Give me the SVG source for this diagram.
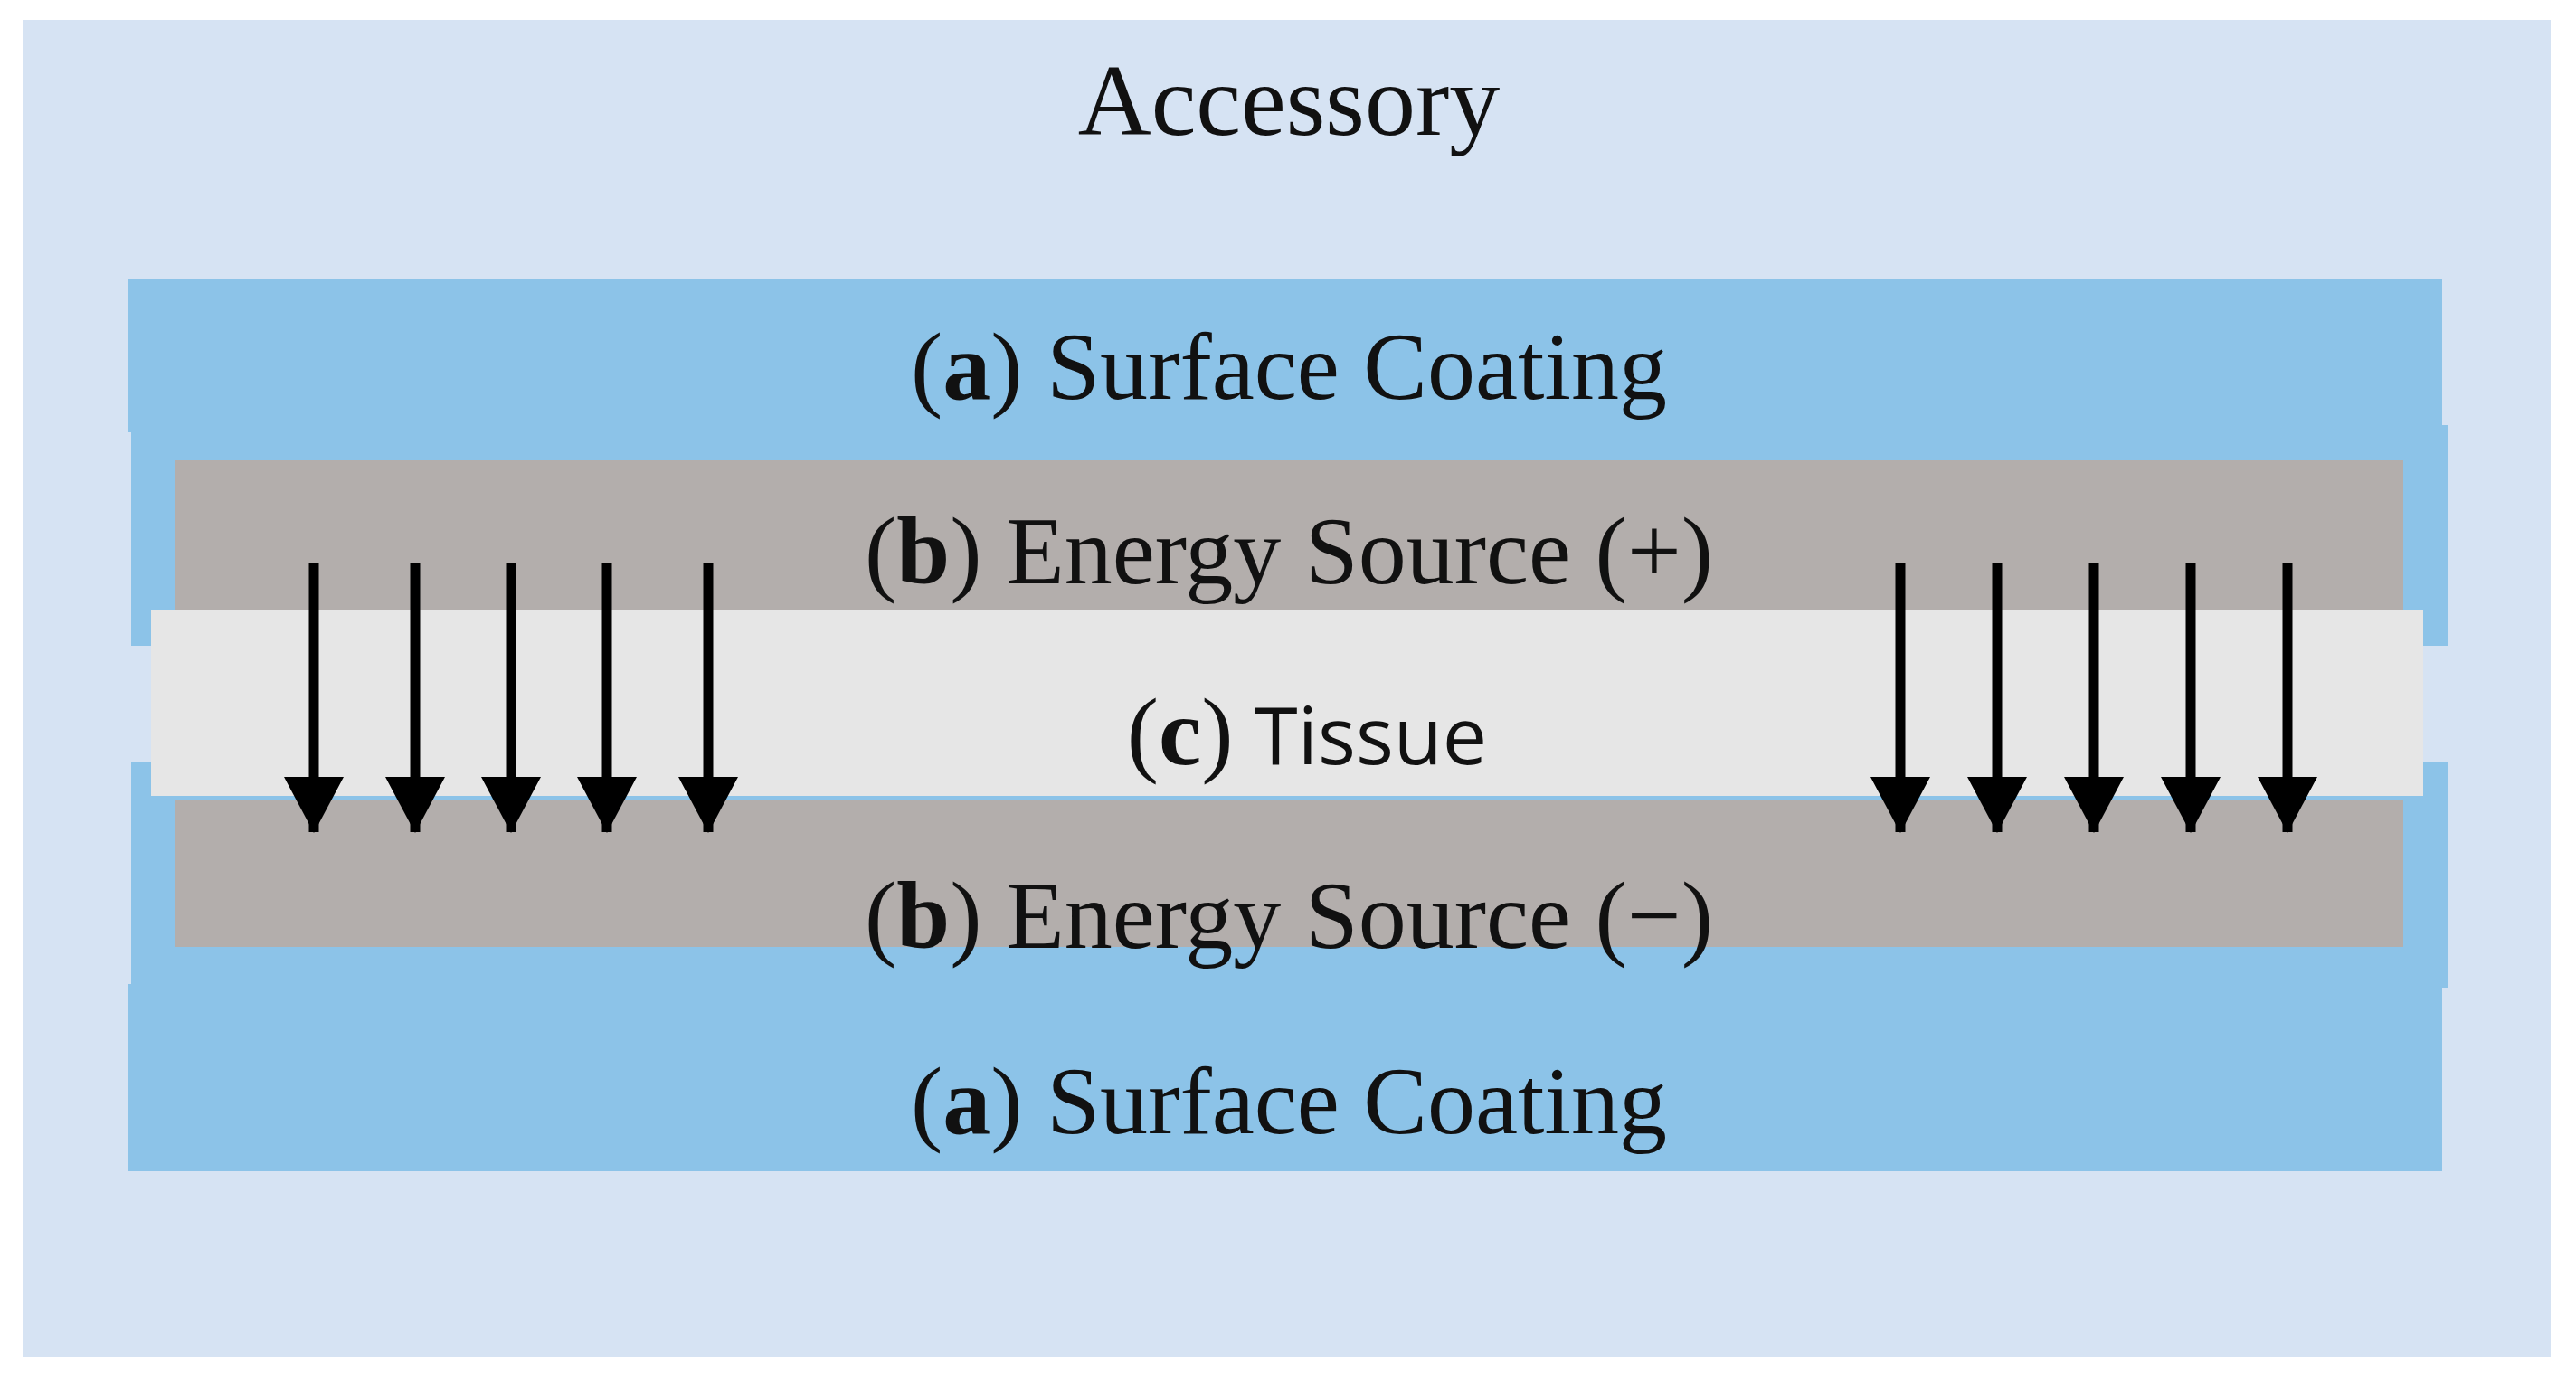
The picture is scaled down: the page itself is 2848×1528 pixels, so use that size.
<svg xmlns="http://www.w3.org/2000/svg" width="2848" height="1528" viewBox="0 0 2848 1528">
<style>
.t{font-family:"Liberation Serif",serif;font-size:106px;fill:#111;text-anchor:middle}
.s{font-family:"Open Sans","Liberation Sans",sans-serif}
.coat{fill:#8cc3e8}.src{fill:#b3aeac}.tis{fill:#e6e6e6}
.arr{stroke:#000;stroke-width:11}
</style>
<defs><marker id="ah" markerUnits="userSpaceOnUse" markerWidth="70" markerHeight="64" refX="35" refY="62" orient="auto" viewBox="0 0 70 64"><path d="M0,0 L70,0 L35,64 Z" fill="#000" transform="rotate(-90 35 32) translate(0 0)"/></marker></defs>
<rect width="2848" height="1528" fill="#fff"/>
<g id="accessory"><rect x="25" y="22" width="2795" height="1478" fill="#d6e3f3"/><text class="t" x="1425" y="149" style="font-size:112px">Accessory</text></g>
<g id="coating-top"><rect class="coat" x="141" y="308" width="2559" height="170"/><rect class="coat" x="145" y="470" width="2561" height="244"/><text class="t" x="1425" y="441">(<tspan font-weight="bold">a</tspan>) Surface Coating</text></g>
<g id="coating-bottom"><rect class="coat" x="145" y="842" width="2561" height="250"/><rect class="coat" x="141" y="1088" width="2559" height="207"/><text class="t" x="1425" y="1253">(<tspan font-weight="bold">a</tspan>) Surface Coating</text></g>
<g id="source-plus"><rect class="src" x="194" y="509" width="2463" height="170"/><text class="t" x="1425" y="645">(<tspan font-weight="bold">b</tspan>) Energy Source (+)</text></g>
<g id="source-minus"><rect class="src" x="194" y="884" width="2463" height="163"/><text class="t" x="1425" y="1048">(<tspan font-weight="bold">b</tspan>) Energy Source (−)</text></g>
<g id="tissue"><rect class="tis" x="167" y="674" width="2512" height="206"/><text class="t" x="1445" y="845">(<tspan font-weight="bold">c</tspan>)<tspan class="s" font-size="88"> Tissue</tspan></text></g>
<g id="connectors" fill="none">
<path d="M347 623V920M459 623V920M565 623V920M671 623V920M783 623V920M2101 623V920M2208 623V920M2315 623V920M2422 623V920M2529 623V920" stroke="#000" stroke-width="11"/>
<g fill="#000"><path d="M314 859h66l-33 62z"/><path d="M426 859h66l-33 62z"/><path d="M532 859h66l-33 62z"/><path d="M638 859h66l-33 62z"/><path d="M750 859h66l-33 62z"/><path d="M2068 859h66l-33 62z"/><path d="M2175 859h66l-33 62z"/><path d="M2282 859h66l-33 62z"/><path d="M2389 859h66l-33 62z"/><path d="M2496 859h66l-33 62z"/></g>
</g>
</svg>
